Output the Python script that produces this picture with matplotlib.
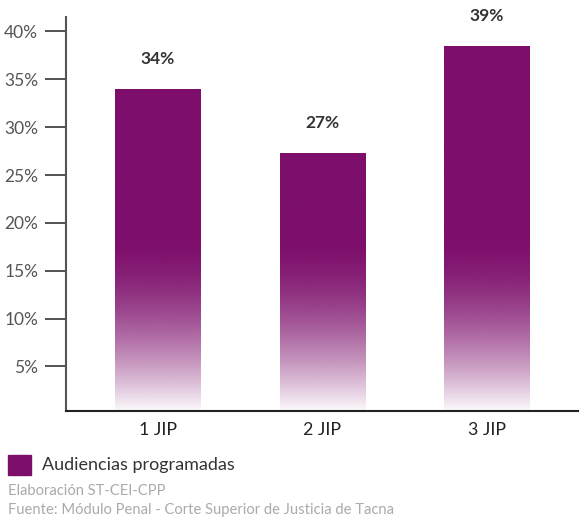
import numpy as np
import matplotlib
matplotlib.use("Agg")
import matplotlib.pyplot as plt
from matplotlib.patches import Rectangle

categories = ["1 JIP", "2 JIP", "3 JIP"]
values = [34.0, 27.3, 38.5]
labels = ["34%", "27%", "39%"]
yticks = [5, 10, 15, 20, 25, 30, 35, 40]

purple = "#7D0E6B"
plt.rcParams['font.family'] = ['Lato', 'DejaVu Sans']

fig = plt.figure(figsize=(5.82, 5.18), dpi=100)
ax = fig.add_axes([0.1134, 0.2066, 0.8796, 0.7604])

x = np.arange(len(categories))
bars = ax.bar(x, values, width=0.52, color="none", edgecolor="none")

# vertical fade: solid above ~18%, easing to white at the base
yy = np.linspace(0, 40, 400)[:, None]
t = np.clip(yy / 18.0, 0, 1)
alpha = 1 - (1 - t) ** 1.6
rgba = np.zeros((400, 1, 4))
rgba[..., :3] = matplotlib.colors.to_rgb(purple)
rgba[..., 3] = alpha
for b in bars:
    x0, w = b.get_x(), b.get_width()
    im = ax.imshow(rgba, extent=[x0, x0 + w, 0, 40], origin="lower",
                   aspect="auto", interpolation="bilinear", zorder=2)
    im.set_clip_path(b)

for xi, v, lab in zip(x, values, labels):
    ax.text(xi, v + 2.3, lab, ha="center", va="bottom", fontsize=12.5,
            fontweight="bold", color="#333333")

ax.set_xlim(-0.559, 2.553)
ax.set_ylim(0.35, 41.5)
ax.set_xticks(x)
ax.set_xticklabels(categories, fontsize=12.8, color="#222222")
ax.set_yticks(yticks)
ax.set_yticklabels([f"{t}%" for t in yticks], fontsize=12.5, color="#555555")
ax.tick_params(axis="y", length=15, width=1.3, color="#444444", pad=5)
ax.tick_params(axis="x", length=0, pad=8)
for s in ["top", "right"]:
    ax.spines[s].set_visible(False)
ax.spines["left"].set_color("#555555")
ax.spines["left"].set_linewidth(1.5)
ax.spines["bottom"].set_color("#222222")
ax.spines["bottom"].set_linewidth(1.5)

fig.patches.append(Rectangle((8 / 582, 1 - 475 / 518), 23 / 582, 20 / 518,
                             transform=fig.transFigure, color=purple))
fig.text(42 / 582, 1 - 465 / 518, "Audiencias programadas", fontsize=13,
         color="#333333", va="center")
fig.text(8 / 582, 1 - 491 / 518, "Elaboración ST-CEI-CPP", fontsize=10.6,
         color="#aaaaaa", va="center")
fig.text(8 / 582, 1 - 510 / 518, "Fuente: Módulo Penal - Corte Superior de Justicia de Tacna",
         fontsize=10.6, color="#aaaaaa", va="center")

fig.savefig("out.png", dpi=100)
